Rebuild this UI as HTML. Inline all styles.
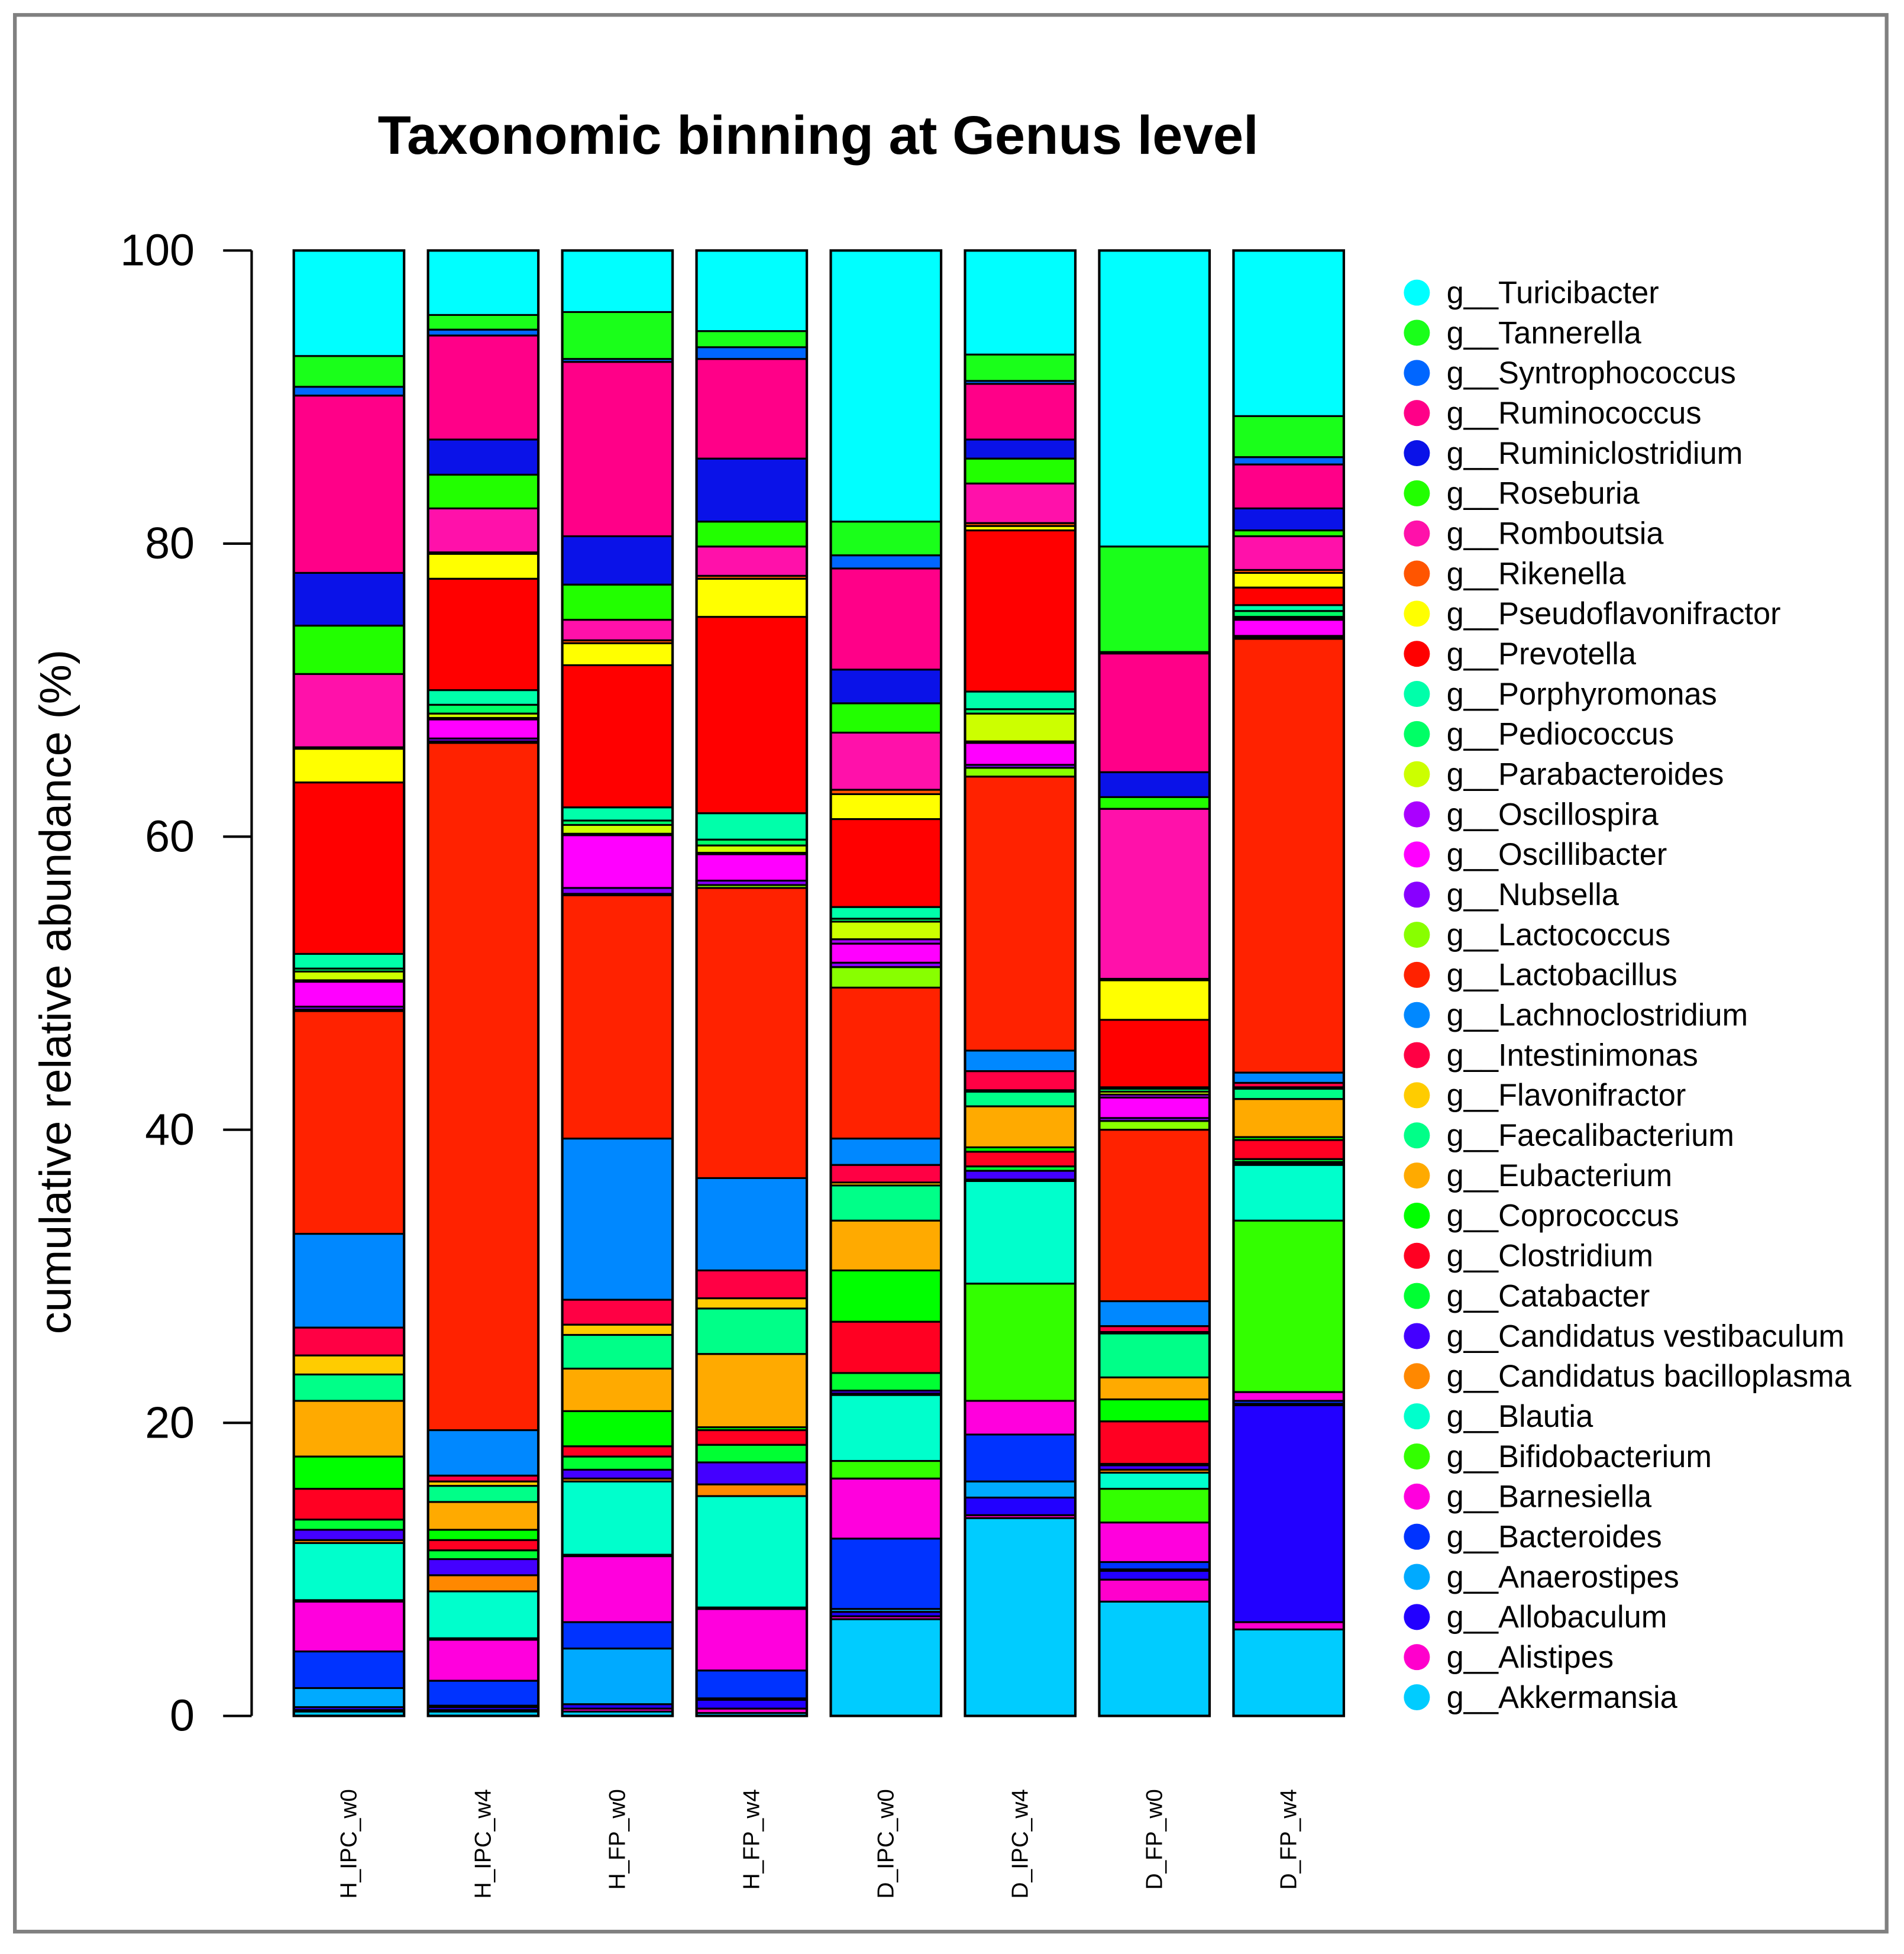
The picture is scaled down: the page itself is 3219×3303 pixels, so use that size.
<!DOCTYPE html>
<html><head><meta charset="utf-8"><style>html,body{margin:0;padding:0;background:#fff}svg{display:block}</style></head>
<body>
<svg id="chart" xmlns="http://www.w3.org/2000/svg" width="3219" height="3303" viewBox="0 0 1536 1576" font-family="Liberation Sans, Arial, sans-serif">
<rect x="12" y="12" width="1510" height="1546" fill="#fff" stroke="#808080" stroke-width="3"/>
<text x="660" y="124" font-size="44" font-weight="bold" text-anchor="middle">Taxonomic binning at Genus level</text>
<text transform="translate(57,800) rotate(-90)" font-size="36" text-anchor="middle">cumulative relative abundance (%)</text>
<g id="axis"></g><g id="bars"></g><g id="xlabels"></g><g id="legend"></g>
</svg>
<script>
const samples = ["H_IPC_w0","H_IPC_w4","H_FP_w0","H_FP_w4","D_IPC_w0","D_IPC_w4","D_FP_w0","D_FP_w4"];
const genera = ["Akkermansia","Alistipes","Allobaculum","Anaerostipes","Bacteroides","Barnesiella","Bifidobacterium","Blautia","Candidatus bacilloplasma","Candidatus vestibaculum","Catabacter","Clostridium","Coprococcus","Eubacterium","Faecalibacterium","Flavonifractor","Intestinimonas","Lachnoclostridium","Lactobacillus","Lactococcus","Nubsella","Oscillibacter","Oscillospira","Parabacteroides","Pediococcus","Porphyromonas","Prevotella","Pseudoflavonifractor","Rikenella","Romboutsia","Roseburia","Ruminiclostridium","Ruminococcus","Syntrophococcus","Tannerella","Turicibacter"];
const colors = ["#00CCFF","#FF00CC","#2200FF","#00AAFF","#0033FF","#FF00DD","#33FF00","#00FFCC","#FF8800","#4400FF","#00FF33","#FF0022","#00FF00","#FFAA00","#00FF88","#FFCC00","#FF0044","#0088FF","#FF2200","#88FF00","#8800FF","#FF00FF","#AA00FF","#CCFF00","#00FF66","#00FFAA","#FF0000","#FFFF00","#FF5500","#FF11AA","#22FF00","#0A12E8","#FF0088","#0066FF","#1AFF1A","#00FFFF"];
const akkermansia = [0.3,0.3,0.3,0.2,6.6,13.5,7.8,5.9];
const alistipes = [0.1,0.1,0.2,0.3,0.2,0.2,1.5,0.5];
const allobaculum = [0.2,0.2,0.3,0.6,0.3,1.2,0.6,14.8];
const anaerostipes = [1.3,0.1,3.8,0.1,0.2,1.1,0.1,0.1];
const bacteroides = [2.5,1.7,1.8,1.9,4.8,3.2,0.5,0.2];
const barnesiella = [3.4,2.8,4.5,4.2,4.1,2.3,2.7,0.6];
const bifidobacterium = [0.1,0.1,0.1,0.1,1.2,8.0,2.3,11.7];
const blautia = [3.9,3.2,5.0,7.6,4.5,7.0,1.1,3.8];
const cBacilloplasma = [0.2,1.1,0.2,0.8,0.1,0.1,0.2,0.1];
const cVestibaculum = [0.7,1.1,0.6,1.5,0.2,0.6,0.3,0.1];
const catabacter = [0.7,0.6,0.9,1.2,1.2,0.3,0.1,0.2];
const clostridium = [2.1,0.7,0.7,1.0,3.5,1.0,2.9,1.3];
const coprococcus = [2.2,0.7,2.4,0.2,3.5,0.3,1.5,0.2];
const eubacterium = [3.8,1.9,2.9,5.0,3.4,2.8,1.5,2.6];
const faecalibacterium = [1.8,1.1,2.3,3.1,2.4,1.0,3.0,0.7];
const flavonifractor = [1.3,0.3,0.7,0.7,0.2,0.1,0.1,0.1];
const intestinimonas = [1.9,0.4,1.7,1.9,1.2,1.3,0.4,0.3];
const lachnoclostridium = [6.4,3.1,11.0,6.3,1.8,1.4,1.7,0.7];
const lactobacillus = [15.2,46.9,16.6,19.8,10.3,18.7,11.7,29.6];
const lactococcus = [0.1,0.1,0.1,0.2,1.4,0.6,0.6,0.1];
const nubsella = [0.2,0.2,0.4,0.3,0.3,0.2,0.2,0.1];
const oscillibacter = [1.7,1.3,3.6,1.8,1.3,1.5,1.4,1.1];
const oscillospira = [0.1,0.1,0.1,0.1,0.3,0.1,0.2,0.1];
const parabacteroides = [0.6,0.3,0.6,0.5,1.2,1.9,0.2,0.1];
const pediococcus = [0.2,0.6,0.3,0.4,0.2,0.3,0.2,0.4];
const porphyromonas = [1.0,1.0,0.9,1.8,0.8,1.2,0.1,0.4];
const prevotella = [11.7,7.6,9.7,13.4,6.0,11.0,4.6,1.2];
const pseudoflavonifractor = [2.3,1.7,1.5,2.6,1.7,0.3,2.7,1.0];
const rikenella = [0.1,0.1,0.2,0.2,0.3,0.2,0.1,0.2];
const romboutsia = [5.0,3.0,1.4,2.0,3.9,2.7,11.6,2.3];
const roseburia = [3.3,2.3,2.4,1.7,2.0,1.7,0.8,0.4];
const ruminiclostridium = [3.6,2.4,3.3,4.3,2.3,1.3,1.7,1.5];
const ruminococcus = [12.1,7.1,11.9,6.8,6.9,3.8,8.1,3.0];
const syntrophococcus = [0.6,0.4,0.2,0.8,0.9,0.2,0.1,0.5];
const tannerella = [2.1,1.0,3.2,1.1,2.3,1.8,7.2,2.8];
const turicibacter = [7.2,4.4,4.2,5.5,18.5,7.2,20.2,11.3];
const yTicks = [0,20,40,60,80,100];

const series = [akkermansia,alistipes,allobaculum,anaerostipes,bacteroides,barnesiella,bifidobacterium,blautia,cBacilloplasma,cVestibaculum,catabacter,clostridium,coprococcus,eubacterium,faecalibacterium,flavonifractor,intestinimonas,lachnoclostridium,lactobacillus,lactococcus,nubsella,oscillibacter,oscillospira,parabacteroides,pediococcus,porphyromonas,prevotella,pseudoflavonifractor,rikenella,romboutsia,roseburia,ruminiclostridium,ruminococcus,syntrophococcus,tannerella,turicibacter];
const NS="http://www.w3.org/2000/svg";
const Y0=1384, Y1=202;
const y = v => Y0 - (Math.min(v,100)/100)*(Y0-Y1);
const x = i => 237 + i*108.3;
const BW = 89;
function mk(tag, attrs, parent){const e=document.createElementNS(NS,tag);for(const k in attrs)e.setAttribute(k,attrs[k]);parent.appendChild(e);return e;}
const axis=document.getElementById('axis');
const yl=mk('line',{x1:203,x2:203,y1:Y1,y2:Y0,stroke:'#000','stroke-width':2},axis);


yTicks.forEach(t=>{
  const tk=mk('line',{x1:180,x2:203,y1:y(t),y2:y(t),stroke:'#000','stroke-width':2},axis);
  
  
  const tl=mk('text',{x:157,y:y(t)+12,'font-size':36,'text-anchor':'end'},axis);
  tl.textContent=t;
  
  
});
const bars=document.getElementById('bars');
samples.forEach((s,i)=>{
  let cum=0;
  series.forEach((arr,g)=>{
    const v=arr[i];
    const top=y(cum+v), bot=y(cum);
    const r=mk('rect',{x:x(i),y:top,width:BW,height:Math.max(bot-top,0),fill:colors[g],stroke:'#000','stroke-width':1.5},bars);
    
    
    cum+=v;
  });
  const o=mk('rect',{x:x(i),y:y(Math.min(cum,100)),width:BW,height:y(0)-y(Math.min(cum,100)),fill:'none',stroke:'#000','stroke-width':2},bars);
  
  
  const lx=x(i)+BW/2+6;
  const t=mk('text',{x:0,y:0,'font-size':18.5,'text-anchor':'end',transform:`translate(${lx},1443) rotate(-90)`},document.getElementById('xlabels'));
  t.textContent=s;
  
  
});
const leg=document.getElementById('legend');
for(let k=0;k<genera.length;k++){
  const g=genera.length-1-k;
  const cy=236+k*32.37;
  const c=mk('circle',{cx:1143,cy:cy,r:10.5,fill:colors[g]},leg);
  
  
  const t=mk('text',{x:1167,y:cy+8.5,'font-size':25},leg);
  t.textContent='g__'+genera[g];
  
  
}
</script>
</body></html>
